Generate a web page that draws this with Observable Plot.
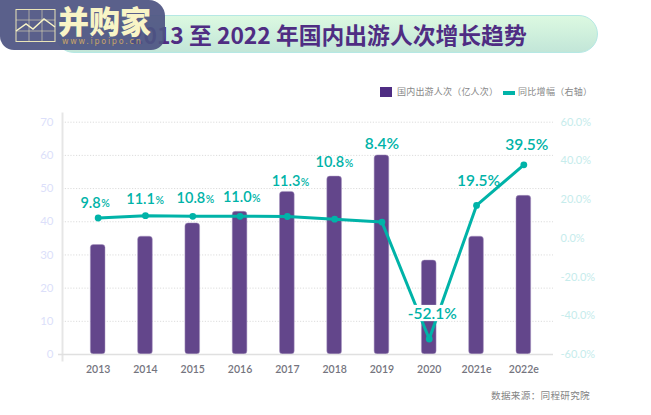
<!DOCTYPE html>
<html lang="zh">
<head>
<meta charset="utf-8">
<script src="https://cdn.jsdelivr.net/npm/d3@7"></script>
<script src="https://cdn.jsdelivr.net/npm/@observablehq/plot@0.6"></script>
<style>
  html, body { margin: 0; padding: 0; background: #fff; }
  #page { position: relative; width: 651px; height: 415px; overflow: hidden; font-family: "Noto Sans CJK SC", sans-serif; }
  #header { position: relative; height: 105px; }
  #pill { position: absolute; left: 55px; top: 15px; width: 541px; height: 36px; border: 1px solid #b5e8e4; border-radius: 19px;
          background: linear-gradient(#dcf9e1, #c2e6d8); }
  #title { position: absolute; left: 130px; top: 16px; line-height: 38px; font-size: 22.8px; font-weight: 700; color: #4f2d83; white-space: pre; }
  #logo { position: absolute; left: 0; top: 0; width: 165px; height: 50px; background: rgba(78, 84, 130, .93); border-radius: 0 16px 14px 14px; }
  #logoName { position: absolute; left: 58px; top: 0; font-size: 31px; line-height: 40px; font-weight: 900; color: #f8f4c6; white-space: pre; }
  #logoUrl { position: absolute; left: 62px; top: 37px; font: 8px/10px "DejaVu Sans", sans-serif; letter-spacing: 1.75px; color: #c8a468; white-space: pre; }
  #logo svg { position: absolute; left: 15px; top: 8px; }
  .lg { position: absolute; top: 85px; font-size: 9px; line-height: 13px; color: #888; white-space: pre; }
  .sw { position: absolute; }
  #source { position: absolute; right: 61px; top: 388px; font-size: 9.6px; line-height: 14px; color: #848484; letter-spacing: .3px; }
  #chart svg { display: block; }
</style>
</head>
<body>
<div id="page">
  <div id="header">
    <div id="pill"></div>
    <div id="title">2013 至 2022 年国内出游人次增长趋势</div>
    <div id="logo">
      <svg width="42" height="36" viewBox="0 0 42 36" fill="none" stroke="#e9e4b8">
        <rect x="1" y="1.5" width="39" height="32" stroke-width="1"/>
        <path d="M1 12H40M1 23H40M14 1.5V33.5M27 1.5V33.5" stroke-width=".8" opacity=".7"/>
        <path d="M1 23L11 16L18 21L29 11L40 19" stroke="#f8f4c6" stroke-width="1.5"/>
      </svg>
      <div id="logoName">并购家</div>
      <div id="logoUrl">www.ipoipo.cn</div>
    </div>
    <div class="sw" style="left:380px;top:87px;width:12px;height:10px;background:#4f2d83"></div>
    <div class="lg" style="left:397px;letter-spacing:.2px">国内出游人次（亿人次）</div>
    <div class="sw" style="left:503px;top:91px;width:12px;height:4px;background:#00b3a8"></div>
    <div class="lg" style="left:518px;letter-spacing:.3px">同比增幅（右轴）</div>
  </div>
  <div id="chart"></div>
  <div id="source">数据来源：同程研究院</div>
</div>
<script>
const years = ["2013","2014","2015","2016","2017","2018","2019","2020","2021e","2022e"];
const trips = [33, 35.5, 39.5, 43, 49, 53.6, 60, 28.3, 35.5, 47.8];
const growthDrawn = [10.5, 11.7, 11.4, 11.4, 11.3, 9.9, 8.4, -52, 17, 38];
const growthText = ["9.8","11.1","10.8","11.0","11.3","10.8","8.4","-52.1","19.5","39.5"];
const leftTicks = [0,10,20,30,40,50,60,70];
const rightTicks = [-60,-40,-20,0,20,40,60];

// right axis (-60..60 %) shares the frame of the left axis (0..70)
const toLeft = v => (v + 60) / 120 * 70;
const toRight = v => Math.round(v / 70 * 120 - 60);

const teal = "#00b3a8";
const table = years.map((year, i) => ({year, trips: trips[i], growth: toLeft(growthDrawn[i]), label: growthText[i]}));

// Label placement around each point
const seam = [2.5, 9.5, 12.5, 11.5, 13, 9.5, 0, 3, 2, 3];
const lift = [-15, -16, -18, -19, -35, -57, -78, -25, -24, -20];

const labelMarks = table.flatMap((d, i) => {
  const base = {x: "year", y: "growth", dy: lift[i], fill: teal, fontWeight: 600};
  if (i >= 6) {
    return [Plot.text([d], {...base, text: r => `${r.label}%`, dx: seam[i], fontSize: 15.5})];
  }
  return [
    Plot.text([d], {...base, text: "label", dx: seam[i], textAnchor: "end", fontSize: 14.5}),
    Plot.text([d], {...base, text: () => "%", dx: seam[i] + .5, textAnchor: "start", fontSize: 10.5, dy: lift[i] + 1})
  ];
});

const chart = Plot.plot({
  width: 651,
  height: 310,
  marginLeft: 62,
  marginRight: 98,
  marginTop: 8,
  marginBottom: 55,
  style: {fontFamily: "Lato, sans-serif", background: "transparent", overflow: "visible"},
  x: {domain: years, range: [57.7, 563.3], padding: 0.69, round: false, label: null},
  y: {domain: [0, 70], range: [249, 16.7], label: null},
  marks: [
    Plot.gridY(leftTicks.slice(1), {stroke: "#dcdcdc", strokeOpacity: 1, strokeDasharray: "1.2 1.6"}),
    Plot.barY(table, {x: "year", y: "trips", fill: "#63468b", stroke: "#a897c0", strokeWidth: .5, r: 3}),
    Plot.frame({anchor: "left", stroke: "#e6e6e6", strokeWidth: 2}),
    Plot.ruleY([0], {stroke: "#e0e0e0", strokeWidth: 1.5, insetLeft: -4}),
    Plot.axisY({ticks: leftTicks, tickSize: 0, tickPadding: 9, fill: "#dcdffa", fontSize: 11.5, label: null}),
    Plot.axisY({ticks: rightTicks.map(toLeft), anchor: "right", tickSize: 0, tickPadding: 7, fill: "#c6ecec", fontSize: 11, label: null,
      tickFormat: d => `${toRight(d).toFixed(1)}%`}),
    Plot.axisX({tickSize: 0, tickPadding: 5, fill: "#74747e", fontSize: 10.5, fontWeight: 600, label: null}),
    Plot.line(table, {x: "year", y: "growth", stroke: teal, strokeWidth: 3, curve: "linear"}),
    Plot.dot(table, {x: "year", y: "growth", fill: teal, r: 3.4}),
    // white plate behind the -52.1% label, which interrupts the line as in the reference
    Plot.barY(table.filter(d => d.year === "2020"), {x: "year", y1: () => 9.9, y2: () => 14.8, fill: "white", insetLeft: -17, insetRight: -14}),
    ...labelMarks
  ]
});
document.getElementById("chart").append(chart);
</script>
</body>
</html>
